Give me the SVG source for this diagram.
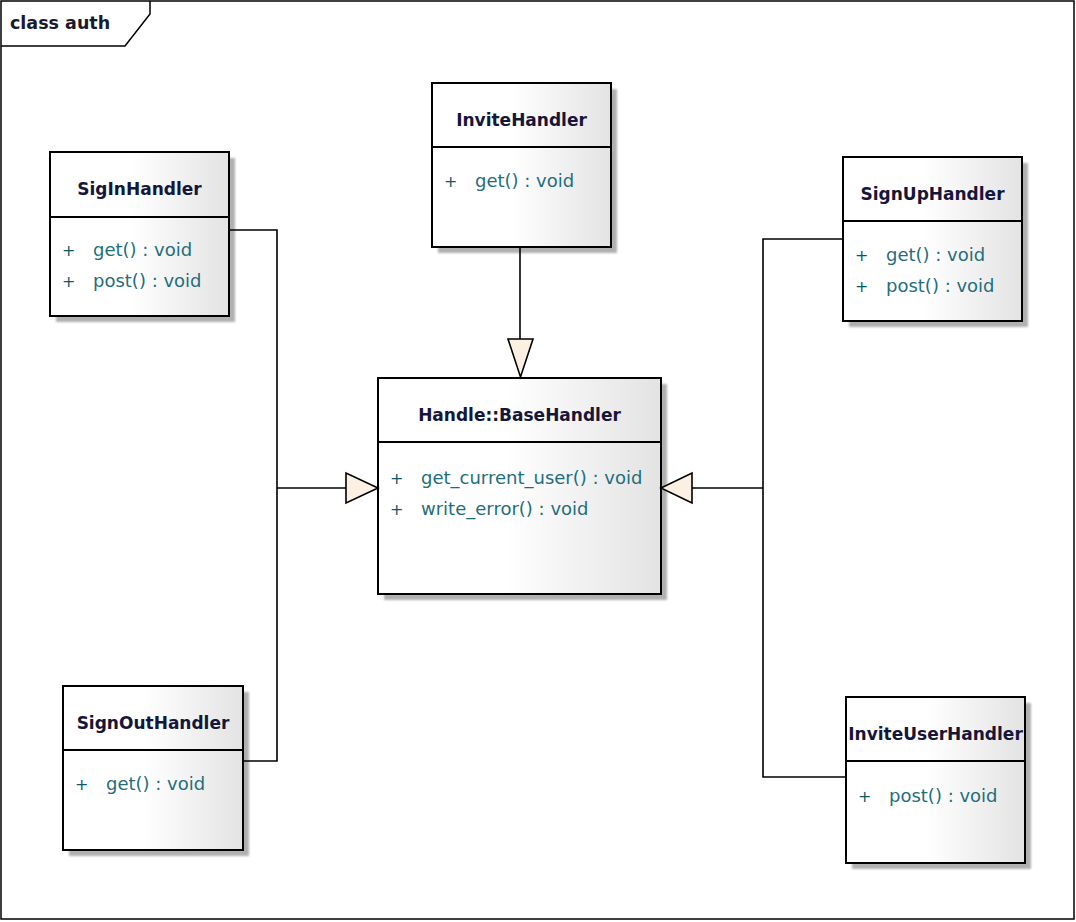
<svg xmlns="http://www.w3.org/2000/svg" width="1076" height="922" viewBox="0 0 1076 922">
  <defs>
    <linearGradient id="boxFill" x1="0" y1="0" x2="1" y2="0">
      <stop offset="0" stop-color="#ffffff"/>
      <stop offset="0.45" stop-color="#ffffff"/>
      <stop offset="1" stop-color="#e3e3e3"/>
    </linearGradient>
    <filter id="soft" x="-10%" y="-10%" width="120%" height="120%">
      <feGaussianBlur stdDeviation="0.8"/>
    </filter>
  </defs>
  <style>
    .frame { fill: #ffffff; stroke: #000; stroke-width: 1.5; }
    .tab { fill: none; stroke: #000; stroke-width: 1.5; }
    .frame-title { font-family: "DejaVu Sans", sans-serif; font-weight: bold; font-size: 17.5px; fill: #1a1a2e; }
    .shadow { fill: #b0b0b0; filter: url(#soft); }
    .box { fill: url(#boxFill); stroke: #000; stroke-width: 2; }
    .div { stroke: #000; stroke-width: 2; }
    .name { font-family: "DejaVu Sans", sans-serif; font-weight: bold; font-size: 17px; fill: #16163a; text-anchor: middle; }
    .vis { font-family: "DejaVu Sans", sans-serif; font-size: 16px; fill: #0b5a66; }
    .op { font-family: "DejaVu Sans", sans-serif; font-size: 18px; fill: #1f6e7c; }
    .line { fill: none; stroke: #000; stroke-width: 1.6; }
    .gen { fill: #fbf0e1; stroke: #000; stroke-width: 1.6; stroke-linejoin: miter; }
  </style>

  <!-- diagram frame -->
  <rect class="frame" x="1" y="1" width="1073" height="918"/>
  <path class="tab" d="M1,46 H125 L150,14 V1"/>
  <text class="frame-title" x="10" y="29">class auth</text>

  <g id="SigInHandler">
    <rect class="shadow" x="56" y="158" width="179" height="164"/>
    <rect class="box" x="50" y="152" width="179" height="164"/>
    <line class="div" x1="50" y1="217" x2="229" y2="217"/>
    <text class="name" x="139.5" y="195">SigInHandler</text>
    <text class="vis" x="62" y="256">+</text>
    <text class="op" x="93" y="256">get() : void</text>
    <text class="vis" x="62" y="287">+</text>
    <text class="op" x="93" y="287">post() : void</text>
  </g>

  <g id="InviteHandler">
    <rect class="shadow" x="438" y="89" width="179" height="164"/>
    <rect class="box" x="432" y="83" width="179" height="164"/>
    <line class="div" x1="432" y1="147" x2="611" y2="147"/>
    <text class="name" x="521.5" y="126">InviteHandler</text>
    <text class="vis" x="444" y="187">+</text>
    <text class="op" x="475" y="187">get() : void</text>
  </g>

  <g id="SignUpHandler">
    <rect class="shadow" x="849" y="163" width="179" height="164"/>
    <rect class="box" x="843" y="157" width="179" height="164"/>
    <line class="div" x1="843" y1="221" x2="1022" y2="221"/>
    <text class="name" x="932.5" y="200">SignUpHandler</text>
    <text class="vis" x="855" y="261">+</text>
    <text class="op" x="886" y="261">get() : void</text>
    <text class="vis" x="855" y="292">+</text>
    <text class="op" x="886" y="292">post() : void</text>
  </g>

  <g id="BaseHandler">
    <rect class="shadow" x="384" y="384" width="283" height="216"/>
    <rect class="box" x="378" y="378" width="283" height="216"/>
    <line class="div" x1="378" y1="442" x2="661" y2="442"/>
    <text class="name" x="519.5" y="421">Handle::BaseHandler</text>
    <text class="vis" x="390" y="484">+</text>
    <text class="op" x="421" y="484">get_current_user() : void</text>
    <text class="vis" x="390" y="515">+</text>
    <text class="op" x="421" y="515">write_error() : void</text>
  </g>

  <g id="SignOutHandler">
    <rect class="shadow" x="69" y="692" width="180" height="164"/>
    <rect class="box" x="63" y="686" width="180" height="164"/>
    <line class="div" x1="63" y1="750" x2="243" y2="750"/>
    <text class="name" x="153" y="729">SignOutHandler</text>
    <text class="vis" x="75" y="790">+</text>
    <text class="op" x="106" y="790">get() : void</text>
  </g>

  <g id="InviteUserHandler">
    <rect class="shadow" x="852" y="703" width="179" height="166"/>
    <rect class="box" x="846" y="697" width="179" height="166"/>
    <line class="div" x1="846" y1="761" x2="1025" y2="761"/>
    <text class="name" x="935.5" y="740">InviteUserHandler</text>
    <text class="vis" x="858" y="802">+</text>
    <text class="op" x="889" y="802">post() : void</text>
  </g>

  <!-- connectors (generalizations), drawn over the drop shadows -->
  <g id="connectors">
    <path class="line" d="M229,230 H277 V761 H243"/>
    <path class="line" d="M277,488 H346"/>
    <polygon class="gen" points="346,473 346,503 378,488"/>
    <path class="line" d="M520,247 V339"/>
    <polygon class="gen" points="508,339 533,339 520.5,377"/>
    <path class="line" d="M843,239 H763 V777 H846"/>
    <path class="line" d="M763,488 H692"/>
    <polygon class="gen" points="692,473 692,503 661,488"/>
  </g>
</svg>
